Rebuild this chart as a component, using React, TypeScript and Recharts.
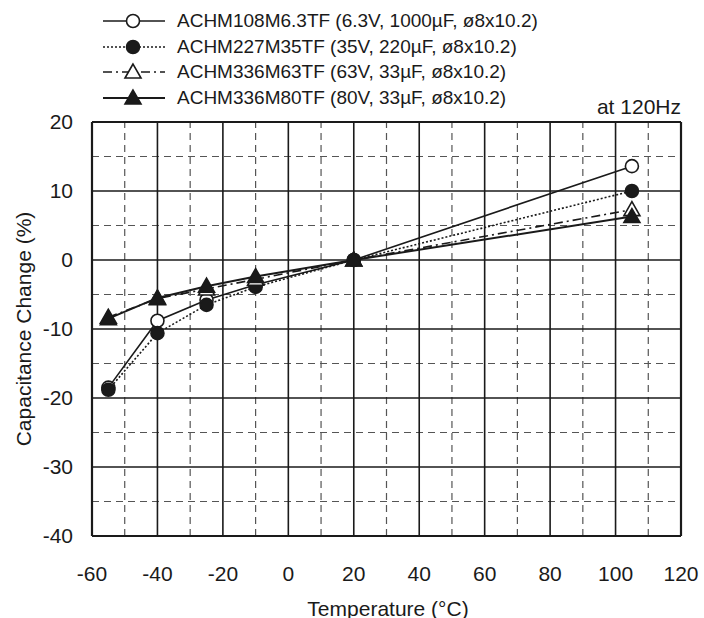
import { LineChart, Line, XAxis, YAxis, ReferenceLine } from "recharts";

// temperatures (°C) at which capacitance was measured
const temps = [-55, -40, -25, -10, 20, 105];

// capacitance change (%) per part
const achm108 = [-18.5, -8.8, -5.8, -3.6, 0, 13.6];
const achm227 = [-18.8, -10.6, -6.5, -3.9, 0, 10.0];
const achm336m63 = [-8.3, -5.6, -4.2, -2.8, 0, 7.3];
const achm336m80 = [-8.5, -5.5, -3.8, -2.4, 0, 6.3];

const xTicks = [-60, -40, -20, 0, 20, 40, 60, 80, 100, 120];
const yTicks = [-40, -30, -20, -10, 0, 10, 20];
const xMajor = [-40, -20, 0, 20, 40, 60, 80, 100];
const xMinor = [-50, -30, -10, 10, 30, 50, 70, 90, 110];
const yMajor = [-30, -20, -10, 0, 10];
const yMinor = [-35, -25, -15, -5, 5, 15];

const FONT = "'Liberation Sans', Arial, Helvetica, sans-serif";
const INK = "#1a1a1a";

const data = temps.map((t, i) => ({
  t,
  s1: achm108[i],
  s2: achm227[i],
  s3: achm336m63[i],
  s4: achm336m80[i],
}));

type Shape = "openCircle" | "circle" | "openTriangle" | "triangle";

const series: { key: string; name: string; dash?: string; shape: Shape }[] = [
  { key: "s1", name: "ACHM108M6.3TF (6.3V, 1000\u00b5F, \u00f88x10.2)", shape: "openCircle" },
  { key: "s2", name: "ACHM227M35TF (35V, 220\u00b5F, \u00f88x10.2)", dash: "2 2", shape: "circle" },
  { key: "s3", name: "ACHM336M63TF (63V, 33\u00b5F, \u00f88x10.2)", dash: "9 4 2 4", shape: "openTriangle" },
  { key: "s4", name: "ACHM336M80TF (80V, 33\u00b5F, \u00f88x10.2)", shape: "triangle" },
];

function Marker({ cx, cy, shape }: { cx: number; cy: number; shape: Shape }) {
  if (shape === "openCircle" || shape === "circle") {
    return (
      <circle
        cx={cx}
        cy={cy}
        r={6.5}
        fill={shape === "circle" ? INK : "#fff"}
        stroke={INK}
        strokeWidth={1.6}
      />
    );
  }
  const s = 8;
  const pts = `${cx},${cy - s} ${cx - s},${cy + s * 0.75} ${cx + s},${cy + s * 0.75}`;
  return (
    <polygon
      points={pts}
      fill={shape === "triangle" ? INK : "#fff"}
      stroke={INK}
      strokeWidth={1.6}
    />
  );
}

function makeDot(shape: Shape) {
  return (props: any) => {
    const { cx, cy, index } = props;
    if (cx == null || cy == null) return <g key={index} />;
    return <Marker key={index} cx={cx} cy={cy} shape={shape} />;
  };
}

function LegendBox() {
  return (
    <div style={{ position: "absolute", left: 100, top: 8, fontFamily: FONT, fontSize: 19, color: INK }}>
      {series.map((s) => (
        <div key={s.key} style={{ display: "flex", alignItems: "center", height: 25.7, whiteSpace: "nowrap" }}>
          <svg width={77} height={22} style={{ flexShrink: 0 }}>
            <line
              x1={3}
              y1={11}
              x2={65}
              y2={11}
              stroke={INK}
              strokeWidth={s.shape === "triangle" ? 2.2 : 1.5}
              strokeDasharray={s.dash}
            />
            <Marker cx={33} cy={11} shape={s.shape} />
          </svg>
          <span>{s.name}</span>
        </div>
      ))}
    </div>
  );
}

export default function App() {
  return (
    <div style={{ position: "absolute", left: 0, top: 0, width: 704, height: 618, background: "#fff" }}>
      <LineChart width={704} height={618} data={data} margin={{ top: 122, right: 23, bottom: 32, left: 32 }}>
        {/* minor (dashed) grid */}
        {xMinor.map((v) => (
          <ReferenceLine key={"xm" + v} x={v} stroke="#555" strokeDasharray="7 5" strokeWidth={1.2} />
        ))}
        {yMinor.map((v) => (
          <ReferenceLine key={"ym" + v} y={v} stroke="#555" strokeDasharray="7 5" strokeWidth={1.2} />
        ))}
        {/* major (solid) grid */}
        {xMajor.map((v) => (
          <ReferenceLine key={"xM" + v} x={v} stroke={INK} strokeWidth={1.6} />
        ))}
        {yMajor.map((v) => (
          <ReferenceLine key={"yM" + v} y={v} stroke={INK} strokeWidth={1.6} />
        ))}
        {/* frame */}
        <ReferenceLine x={-60} stroke={INK} strokeWidth={2.2} />
        <ReferenceLine x={120} stroke={INK} strokeWidth={2.2} />
        <ReferenceLine y={20} stroke={INK} strokeWidth={2.2} />
        <ReferenceLine y={-40} stroke={INK} strokeWidth={2.2} />

        <XAxis
          dataKey="t"
          type="number"
          domain={[-60, 120]}
          ticks={xTicks}
          axisLine={false}
          tickLine={false}
          tickSize={0}
          tickMargin={30}
          height={50}
          tick={{ fill: INK, fontSize: 21, fontFamily: FONT }}
          label={{
            content: () => (
              <text
                x={388}
                y={608}
                textAnchor="middle"
                dominantBaseline="central"
                fill={INK}
                fontSize={21}
                fontFamily={FONT}
              >
                Temperature (°C)
              </text>
            ),
          }}
        />
        <YAxis
          type="number"
          domain={[-40, 20]}
          ticks={yTicks}
          axisLine={false}
          tickLine={false}
          tickSize={0}
          tickMargin={19}
          width={60}
          tick={{ fill: INK, fontSize: 21, fontFamily: FONT }}
          label={{
            content: () => (
              <text
                x={23}
                y={329}
                transform="rotate(-90 23 329)"
                textAnchor="middle"
                dominantBaseline="central"
                fill={INK}
                fontSize={21}
                fontFamily={FONT}
              >
                Capacitance Change (%)
              </text>
            ),
          }}
        />

        {series.map((s) => (
          <Line
            key={s.key}
            dataKey={s.key}
            name={s.name}
            type="linear"
            stroke={INK}
            strokeWidth={s.shape === "triangle" ? 2 : 1.6}
            strokeDasharray={s.dash}
            dot={makeDot(s.shape)}
            activeDot={false}
            isAnimationActive={false}
          />
        ))}

        <text x={681} y={106} textAnchor="end" dominantBaseline="central" fill={INK} fontSize={21} fontFamily={FONT}>
          at 120Hz
        </text>
      </LineChart>
      <LegendBox />
    </div>
  );
}
